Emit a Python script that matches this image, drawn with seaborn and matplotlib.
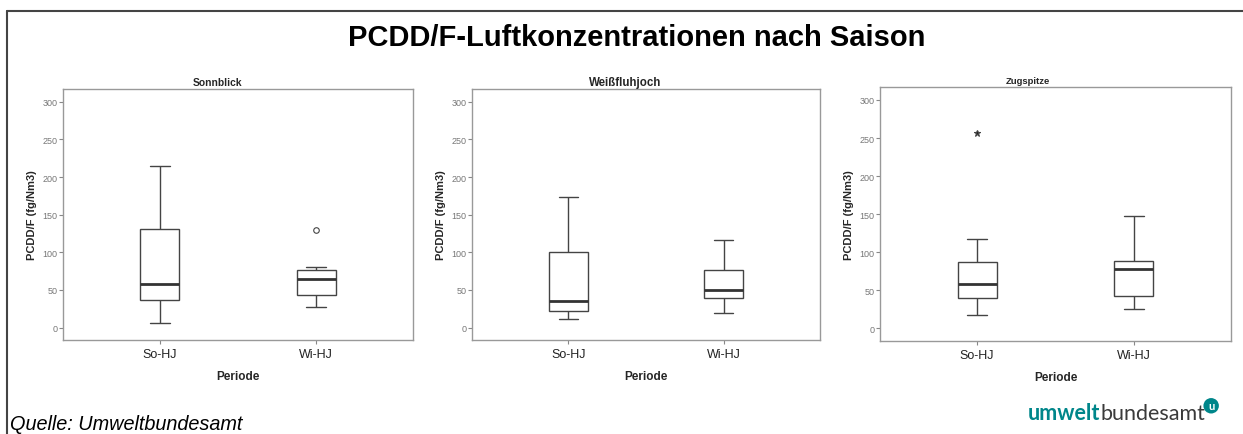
import pandas as pd
import matplotlib
matplotlib.use("Agg")
import matplotlib.pyplot as plt
import seaborn as sns

stationen = ["Sonnblick", "Weißfluhjoch", "Zugspitze"]
perioden = ["So-HJ", "Wi-HJ"]

sonnblick_so = [6, 37, 58, 131, 215]
sonnblick_wi = [28, 43, 43, 64, 64, 76, 76, 81, 129]
weissfluhjoch_so = [11, 22, 35, 101, 173]
weissfluhjoch_wi = [19, 39, 50, 76, 117]
zugspitze_so = [18, 40, 40, 58, 58, 87, 87, 117, 257]
zugspitze_wi = [25, 43, 78, 89, 148]

werte = {
    "Sonnblick": (sonnblick_so, sonnblick_wi),
    "Weißfluhjoch": (weissfluhjoch_so, weissfluhjoch_wi),
    "Zugspitze": (zugspitze_so, zugspitze_wi),
}

zeilen = []
for st in stationen:
    for per, vals in zip(perioden, werte[st]):
        for v in vals:
            zeilen.append({"Station": st, "Periode": per, "Wert": v})
df = pd.DataFrame(zeilen)

sns.set_theme(style="white")
plt.rcParams["font.family"] = ["Liberation Sans", "DejaVu Sans"]

fig = plt.figure(figsize=(12.43, 4.35), dpi=100)

# Rahmen oben und links
fig.add_artist(plt.Line2D([7 / 1243, 1], [1 - 12 / 435] * 2, color="#444444", lw=1.5))
fig.add_artist(plt.Line2D([7 / 1243] * 2, [0, 1 - 12 / 435], color="#444444", lw=1.5))

fig.text(637 / 1243, 1 - 38 / 435, "PCDD/F-Luftkonzentrationen nach Saison",
         ha="center", va="center", fontsize=21, fontweight="bold", color="black")

positionen = [
    [63 / 1243, 1 - 341 / 435, 350 / 1243, 251 / 435],
    [472 / 1243, 1 - 341 / 435, 348 / 1243, 251 / 435],
    [880 / 1243, 1 - 342 / 435, 351 / 1243, 254 / 435],
]
titelgroesse = [7.4, 8.3, 6.8]
titel_x = [0.44, 0.44, 0.42]
marker = ["o", "o", "*"]

for st, pos, tg, tx, mk in zip(stationen, positionen, titelgroesse, titel_x, marker):
    ax = fig.add_axes(pos)
    sns.boxplot(data=df[df["Station"] == st], x="Periode", y="Wert", order=perioden,
                ax=ax, color="white", linecolor="#444444", linewidth=1.0, width=0.25,
                medianprops=dict(linewidth=2, color="#333333"),
                flierprops=dict(marker=mk, markersize=4 if mk == "o" else 5,
                                markerfacecolor="none" if mk == "o" else "#222222",
                                markeredgecolor="#444444", markeredgewidth=0.8))
    ax.set_xlim(-0.62, 1.62)
    ax.set_ylim(-16.5, 317)
    ax.set_yticks([0, 50, 100, 150, 200, 250, 300])
    ax.tick_params(axis="y", left=True, length=3, width=0.8, color="#888888",
                   labelsize=6.5, labelcolor="#777777", pad=1)
    ax.tick_params(axis="x", bottom=True, length=3, width=0.8, color="#888888",
                   labelsize=9, labelcolor="#222222", pad=3)
    for sp in ax.spines.values():
        sp.set_color("#999999")
        sp.set_linewidth(1.0)
    ax.set_title(st, x=tx, fontsize=tg, fontweight="bold", pad=3)
    ax.set_ylabel("PCDD/F (fg/Nm3)", fontsize=8, fontweight="bold", labelpad=4)
    ax.set_xlabel("Periode", fontsize=8.5, fontweight="bold", labelpad=7)

fig.text(10 / 1243, 1 - 425 / 435, "Quelle: Umweltbundesamt", ha="left", va="center",
         fontsize=14.3, style="italic", color="black")

t1 = fig.text(1028 / 1243, 1 - 420 / 435, "umwelt", ha="left", va="baseline",
              fontsize=15.5, fontweight="bold", color="#00868a", family="Lato")
t2 = plt.annotate("bundesamt", xy=(1, 0), xycoords=t1, ha="left", va="bottom",
                  fontsize=15.5, color="#3a3a3a", family="Lato", annotation_clip=False)
plt.annotate("u", xy=(1, 1), xycoords=t2, xytext=(2, -2), textcoords="offset points",
             ha="left", va="center", fontsize=8, fontweight="bold", color="white",
             family="Lato", annotation_clip=False,
             bbox=dict(boxstyle="circle,pad=0.2", fc="#00868a", ec="none"))

fig.savefig("out.png", dpi=100)
